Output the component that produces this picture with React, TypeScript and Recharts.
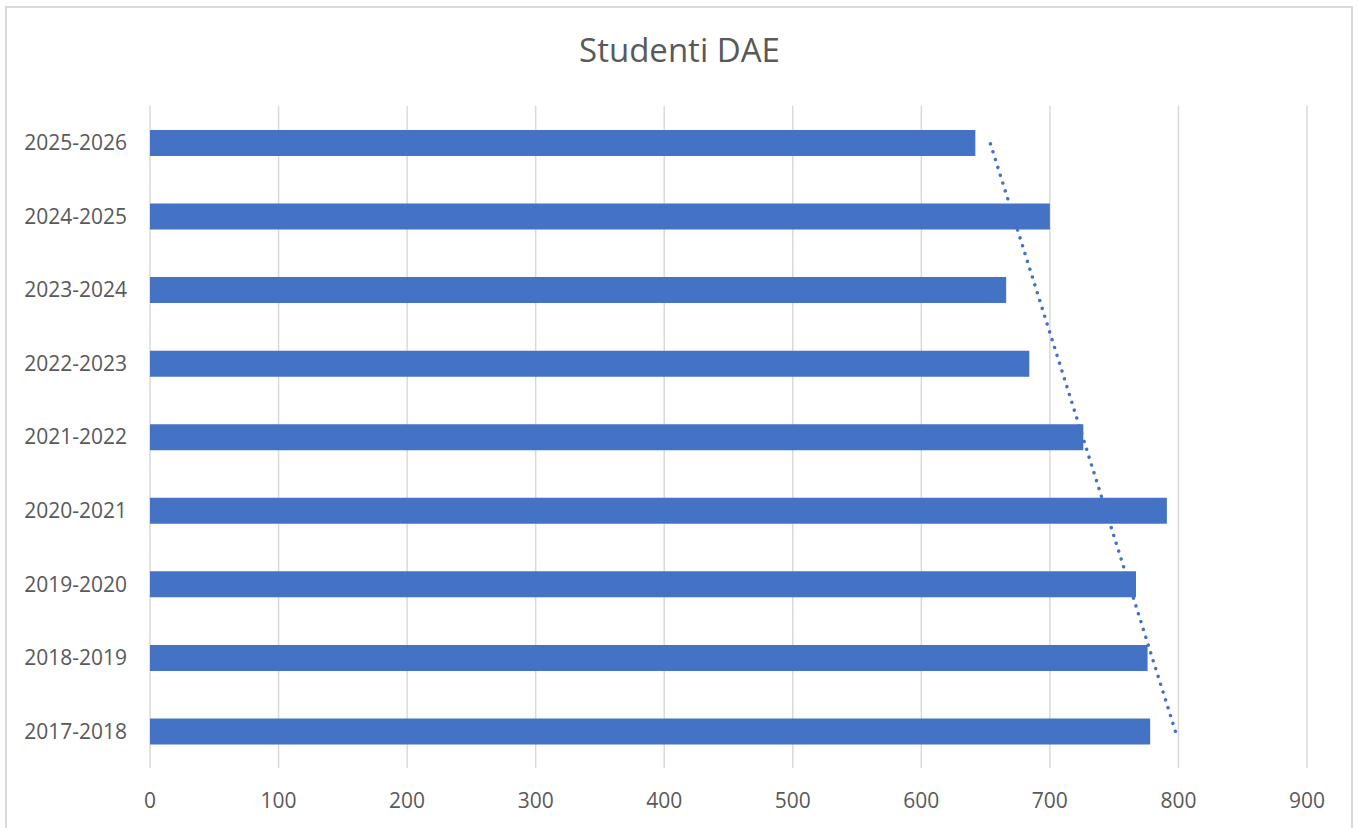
import * as React from "react";
import {
  ComposedChart,
  Bar,
  Line,
  XAxis,
  YAxis,
  CartesianGrid,
} from "recharts";

// school years, oldest first (drawn bottom to top)
const years = [
  "2017-2018",
  "2018-2019",
  "2019-2020",
  "2020-2021",
  "2021-2022",
  "2022-2023",
  "2023-2024",
  "2024-2025",
  "2025-2026",
];

const students = [778, 776, 767, 791, 726, 684, 666, 700, 642];

const xTicks = [0, 100, 200, 300, 400, 500, 600, 700, 800, 900];

// linear trendline (least squares over the category index), like Excel's
function linearTrend(values: number[]) {
  const n = values.length;
  const mx = (n - 1) / 2;
  const my = values.reduce((a, b) => a + b, 0) / n;
  let num = 0;
  let den = 0;
  values.forEach((v, i) => {
    num += (i - mx) * (v - my);
    den += (i - mx) * (i - mx);
  });
  const slope = num / den;
  return values.map((_, i) => my + slope * (i - mx));
}

const trend = linearTrend(students);

const data = years.map((year, i) => ({
  year,
  students: students[i],
  trend: trend[i],
}));

const textColor = "#595959";
const font = "'Open Sans', sans-serif";

export default function App() {
  return (
    <div
      style={{
        position: "absolute",
        left: 0,
        top: 0,
        width: 1359,
        height: 828,
        overflow: "hidden",
        background: "#fff",
        fontFamily: font,
      }}
    >
      <div
        style={{
          position: "absolute",
          left: 5,
          top: 6,
          width: 1348,
          height: 840,
          border: "2px solid #d9d9d9",
          boxSizing: "border-box",
        }}
      />
      <div
        style={{
          position: "absolute",
          left: 0,
          top: 33,
          width: 1359,
          textAlign: "center",
          fontSize: 33,
          lineHeight: "33px",
          color: textColor,
        }}
      >
        Studenti DAE
      </div>
      <ComposedChart
        width={1359}
        height={828}
        data={data}
        layout="vertical"
        margin={{ top: 106, right: 52, bottom: 0, left: 0 }}
        style={{ position: "absolute", left: 0, top: 0 }}
      >
        <CartesianGrid
          horizontal={false}
          stroke="#d9d9d9"
          strokeWidth={1.5}
        />
        <XAxis
          type="number"
          domain={[0, 900]}
          ticks={xTicks}
          axisLine={false}
          tickLine={false}
          tickMargin={19}
          height={60}
          tick={{ fill: textColor, fontSize: 21, fontFamily: font }}
        />
        <YAxis
          type="category"
          dataKey="year"
          reversed
          width={150}
          axisLine={false}
          tickLine={false}
          tickMargin={17}
          tick={{ fill: textColor, fontSize: 21, fontFamily: font }}
        />
        <Bar
          dataKey="students"
          fill="#4472C4"
          barSize={26}
          isAnimationActive={false}
        />
        <Line
          dataKey="trend"
          stroke="#4472C4"
          strokeWidth={3.5}
          strokeDasharray="0.01 8.2"
          strokeLinecap="round"
          dot={false}
          activeDot={false}
          isAnimationActive={false}
        />
      </ComposedChart>
    </div>
  );
}
